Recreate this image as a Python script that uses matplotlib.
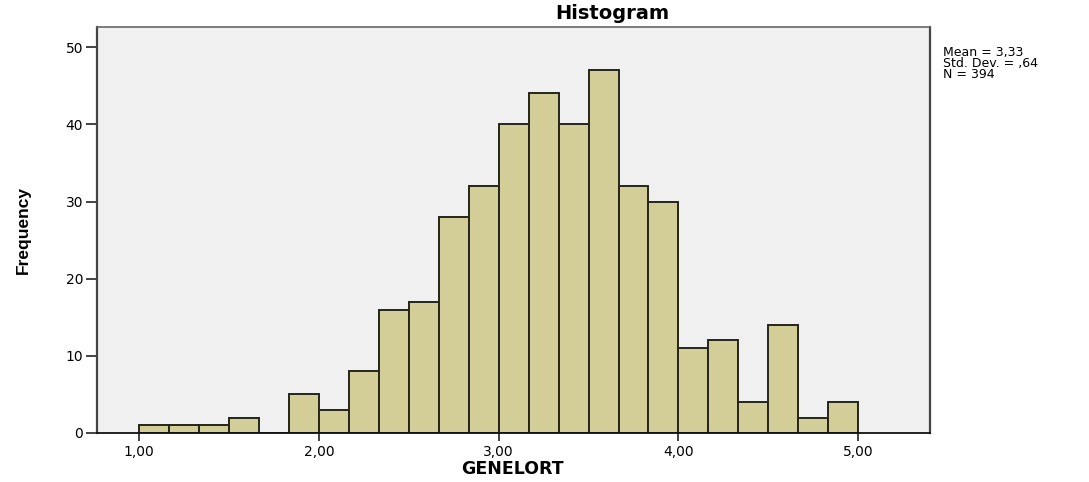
import numpy as np
import matplotlib
matplotlib.use("Agg")
import matplotlib.pyplot as plt

# Histogram of GENELORT (bin width 1/6, from 1.00 to 5.00)
bin_edges = [1 + k / 6 for k in range(25)]
counts = [1, 1, 1, 2, 0, 5, 3, 8, 16, 17, 28, 32, 40, 44, 40, 47,
          32, 30, 11, 12, 4, 14, 2, 4]
x_ticks = [1, 2, 3, 4, 5]
x_tick_labels = ["1,00", "2,00", "3,00", "4,00", "5,00"]
y_ticks = [0, 10, 20, 30, 40, 50]
stats_text = "Mean = 3,33\nStd. Dev. = ,64\nN = 394"

plt.rcParams["font.family"] = ["DejaVu Sans"]

fig = plt.figure(figsize=(10.89, 4.82), dpi=100)
ax = fig.add_axes([0.0891, 0.1017, 0.765, 0.842])
ax.set_facecolor("#f0f0f0")

left = np.array(bin_edges[:-1])
widths = np.diff(bin_edges)
ax.bar(left, counts, width=widths, align="edge", color="#d3ce97",
       edgecolor="#26251a", linewidth=1.4)

ax.set_xlim(0.766, 5.40)
ax.set_ylim(0, 52.6)
ax.set_xticks(x_ticks)
ax.set_xticklabels(x_tick_labels, fontsize=10)
ax.set_yticks(y_ticks)
ax.set_yticklabels([str(v) for v in y_ticks], fontsize=10)
ax.tick_params(axis="x", length=6, width=1.2, color="#222222", pad=3)
ax.tick_params(axis="y", length=8, width=1.2, color="#222222", pad=2)

for side in ["left", "right"]:
    ax.spines[side].set_color("#444444")
    ax.spines[side].set_linewidth(1.6)
ax.spines["top"].set_color("#666666")
ax.spines["top"].set_linewidth(1.2)
ax.spines["bottom"].set_color("#111111")
ax.spines["bottom"].set_linewidth(1.3)

# title sits right of the axes centre in the original
fig.text(0.562, 0.972, "Histogram", fontsize=14, fontweight="bold",
         ha="center", va="center")
fig.text(0.471, 0.026, "GENELORT", fontsize=12.5, fontweight="bold",
         ha="center", va="center")
ax.set_ylabel("Frequency", fontsize=12.5, fontweight="bold",
              family=["Liberation Sans Narrow", "Liberation Sans"],
              labelpad=25)

fig.text(0.866, 0.905, stats_text, fontsize=9, va="top", ha="left",
         linespacing=0.82)

fig.savefig("out.png", dpi=100)
